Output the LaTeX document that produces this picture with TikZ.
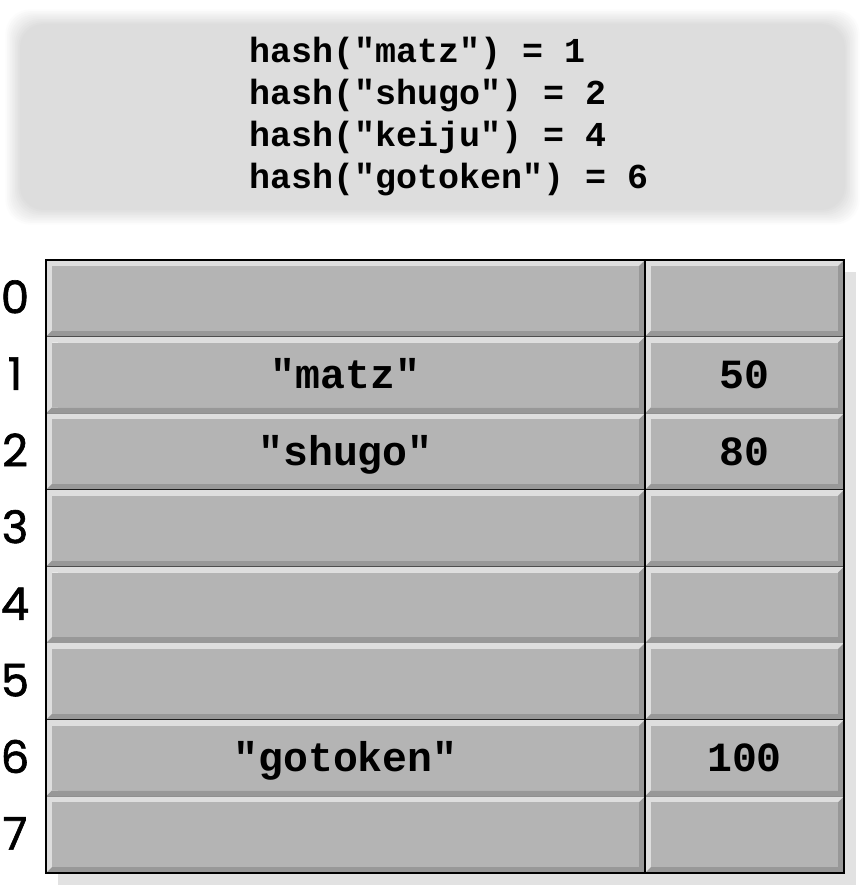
\documentclass[tikz,border=0pt]{standalone}
\usepackage{fontspec}
\setmonofont{Liberation Mono}
\newfontfamily\labelfont[FakeBold=1.3]{Poppins}
\definecolor{facegray}{RGB}{180,180,180}
\definecolor{lightbev}{RGB}{222,222,222}
\definecolor{darkbev}{RGB}{152,152,152}
\definecolor{boxgray}{RGB}{221,221,221}
\definecolor{shadowgray}{RGB}{226,226,226}
\newcommand\bevcell[4]{%
  \fill[lightbev] (#1,#2) -- (#3,#2) -- (#3-6,#2+6) -- (#1+6,#2+6) -- (#1+6,#4-6) -- (#1,#4) -- cycle;
  \fill[darkbev] (#3,#2) -- (#3,#4) -- (#1,#4) -- (#1+6,#4-6) -- (#3-6,#4-6) -- (#3-6,#2+6) -- cycle;
  \fill[facegray] (#1+6,#2+6) rectangle (#3-6,#4-6);
}
\tikzset{
  codetext/.style={inner sep=0pt, font=\ttfamily\bfseries\fontsize{35}{42}\selectfont},
  celltext/.style={inner sep=0pt, anchor=base, font=\ttfamily\bfseries\fontsize{41.5}{48}\selectfont},
  idxlabel/.style={inner sep=0pt, anchor=base, font=\labelfont\fontsize{45}{52}\selectfont},
  gridline/.style={line width=1.2pt, draw=black}
}
\begin{document}
\begin{tikzpicture}[x=1pt,y=-1pt]
\useasboundingbox (0,0) rectangle (865,885);
\fill[white] (0,0) rectangle (865,885);
% blurred top box
\foreach \k in {0,...,10}{
  \pgfmathsetmacro\ins{1.6*\k}
  \pgfmathtruncatemacro\pc{\k*10}
  \fill[boxgray!\pc!white, rounded corners=24] (4+\ins,8+\ins) rectangle (861-\ins,226-\ins);
}
\node[codetext, anchor=base west] (h1) at (249,63) {hash("matz") = 1};
\node[codetext, anchor=base west] (h2) at (249,105) {hash("shugo") = 2};
\node[codetext, anchor=base west] (h3) at (249,147) {hash("keiju") = 4};
\node[codetext, anchor=base west] (h4) at (249,189) {hash("gotoken") = 6};
% table shadow
\fill[shadowgray] (58,272) rectangle (856,885);
% cells
\foreach \r in {0,...,7}{
  \pgfmathsetmacro\ya{260+76.625*\r}
  \pgfmathsetmacro\yb{260+76.625*(\r+1)}
  \bevcell{46}{\ya}{645}{\yb}
  \bevcell{645}{\ya}{844}{\yb}
  \draw[gridline] (46,\yb) -- (844,\yb);
  \pgfmathsetmacro\yl{\ya+38.3+15}
  \node[idxlabel] (i\r) at (15,\yl) {\r};
}
\draw[gridline] (46,260) rectangle (844,873);
\draw[gridline] (645,260) -- (645,873);
% cell texts
\node[celltext] (k1) at (345.5,388) {"matz"};
\node[celltext] (v1) at (744.5,388) {50};
\node[celltext] (k2) at (345.5,465) {"shugo"};
\node[celltext] (v2) at (744.5,465) {80};
\node[celltext] (k6) at (345.5,771) {"gotoken"};
\node[celltext] (v6) at (744.5,771) {100};
\end{tikzpicture}
\end{document}
